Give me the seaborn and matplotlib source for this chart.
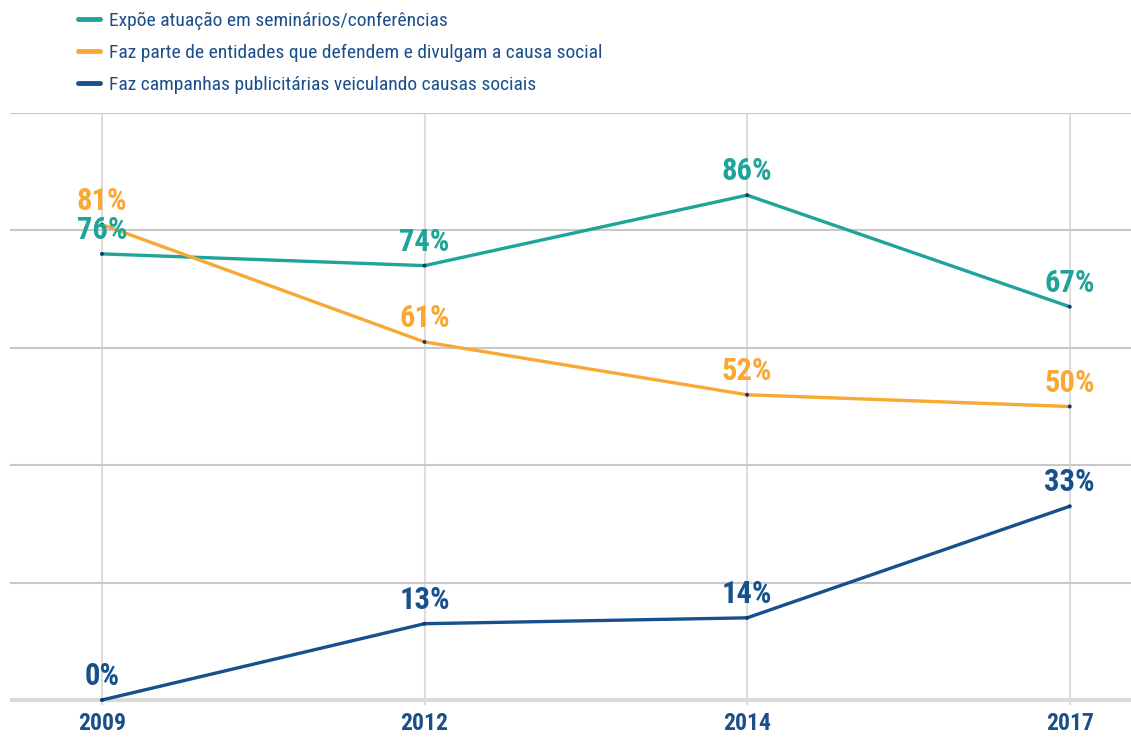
import matplotlib
matplotlib.use("Agg")
import matplotlib.pyplot as plt
from matplotlib import font_manager
from matplotlib.lines import Line2D
import seaborn as sns
import pandas as pd

years = ["2009", "2012", "2014", "2017"]
series_names = [
    "Expõe atuação em seminários/conferências",
    "Faz parte de entidades que defendem e divulgam a causa social",
    "Faz campanhas publicitárias veiculando causas sociais",
]
seminarios = [76, 74, 86, 67]
entidades = [81, 61, 52, 50]
campanhas = [0, 13, 14, 33]
colors = ["#1FA49A", "#F9A833", "#17508C"]
text_color = "#1B4F8A"

sns.set_theme(style="white")

available = {f.name for f in font_manager.fontManager.ttflist}
candidates = ["Roboto Condensed", "Liberation Sans Narrow", "Open Sans Condensed",
              "Noto Sans", "DejaVu Sans"]
family = next(c for c in candidates if c in available)
plt.rcParams["font.family"] = [family, "DejaVu Sans"]

rows = []
for name, vals in zip(series_names, [seminarios, entidades, campanhas]):
    for i, (y, v) in enumerate(zip(years, vals)):
        rows.append({"pos": i, "ano": y, "valor": v, "serie": name})
df = pd.DataFrame(rows)

fig = plt.figure(figsize=(11.31, 7.38), dpi=100)
ax = fig.add_axes([10 / 1131, 33 / 738, 1 - 10 / 1131, (705 - 113) / 738])

sns.lineplot(data=df, x="pos", y="valor", hue="serie", palette=colors,
             linewidth=2.4, ax=ax, legend=False, zorder=3)
sns.scatterplot(data=df, x="pos", y="valor", color="#17386B", s=8,
                edgecolor="none", ax=ax, legend=False, zorder=4)

for (name, vals, col) in zip(series_names, [seminarios, entidades, campanhas], colors):
    for i, v in enumerate(vals):
        ax.annotate(f"{v}%", (i, v), xytext=(0, 24), textcoords="offset pixels",
                    ha="center", va="center", fontsize=22, fontweight="bold",
                    color=col, zorder=5)

ax.set_xlim(-0.285, 3.19)
ax.set_ylim(-0.85, 100)
ax.set_yticks([0, 20, 40, 60, 80, 100])
ax.set_yticklabels([])
ax.tick_params(axis="y", length=0)
ax.set_xticks(range(len(years)))
ax.set_xticklabels(years, fontsize=17, fontweight="bold", color=text_color)
ax.tick_params(axis="x", length=0, pad=5)
ax.set_xlabel("")
ax.set_ylabel("")
ax.grid(axis="y", color="#C8C8C8", linewidth=1.5, zorder=0)
ax.grid(axis="x", color="#DCDCDC", linewidth=1.5, zorder=0)
ax.axhline(0, color="#DADADA", linewidth=3, zorder=1)
for s in ax.spines.values():
    s.set_visible(False)

handles = [Line2D([], [], color=c, linewidth=3.5) for c in colors]
leg = fig.legend(handles, series_names, loc="upper left",
                 bbox_to_anchor=(60 / 1131, 1 + 6 / 738), frameon=False,
                 fontsize=14, handlelength=1.15, handletextpad=0.45,
                 labelspacing=0.72)
for t in leg.get_texts():
    t.set_color(text_color)

fig.savefig("out.png", dpi=100)
